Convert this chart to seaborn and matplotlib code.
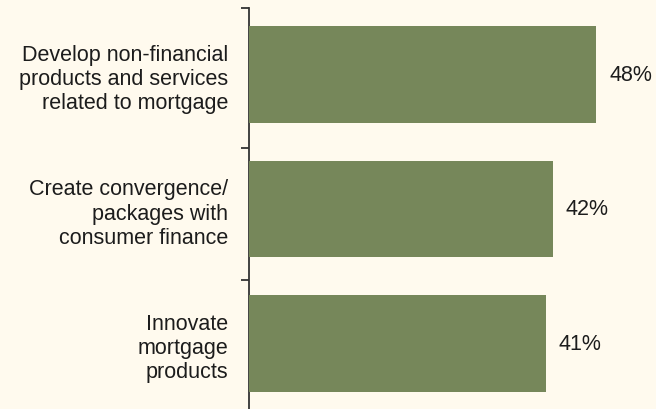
import pandas as pd
import seaborn as sns
import matplotlib.pyplot as plt

# Data
categories = [
    "Develop non-financial\nproducts and services\nrelated to mortgage",
    "Create convergence/\npackages with\nconsumer finance",
    "Innovate\nmortgage\nproducts",
]
values = [48, 42, 41]
value_labels = ["48%", "42%", "41%"]

df = pd.DataFrame({"category": categories, "value": values})

bg = "#FFFAEE"
bar_color = "#76875A"
text_color = "#1c1c1c"

sns.set_style("white")
plt.rcParams["font.family"] = ["Liberation Sans", "DejaVu Sans"]

fig = plt.figure(figsize=(6.56, 4.10), dpi=100, facecolor=bg)
ax = fig.add_axes([249 / 656, 0.0, 405 / 656, 401 / 410])
ax.set_facecolor(bg)

sns.barplot(data=df, x="value", y="category", color=bar_color, width=0.72,
            saturation=1, linewidth=0, ax=ax)

ax.set_xlim(0, 56)
ax.set_ylim(2.487, -0.494)

# value labels to the right of bars
for i, (v, lab) in enumerate(zip(values, value_labels)):
    ax.annotate(lab, xy=(v, i), xytext=(13, 0), textcoords="offset pixels",
                va="center", ha="left", fontsize=15.5, color=text_color)

# axes styling
for s in ["top", "right", "bottom"]:
    ax.spines[s].set_visible(False)
ax.spines["left"].set_color("#333333")
ax.spines["left"].set_linewidth(1.3)
ax.spines["left"].set_zorder(0)

ax.set_xticks([])
ax.set_xlabel("")
ax.set_ylabel("")
ax.tick_params(axis="y", which="major", length=0, pad=15)
for t in ax.get_yticklabels():
    t.set_fontsize(15.5)
    t.set_color(text_color)
    t.set_linespacing(1.2)
    t.set_ha("right")

ax.set_yticks([-0.494, 0.546, 1.528], minor=True)
ax.tick_params(axis="y", which="minor", left=True, length=6, width=1.3,
               color="#333333", direction="out")

fig.savefig("out.png", dpi=100, facecolor=bg)
